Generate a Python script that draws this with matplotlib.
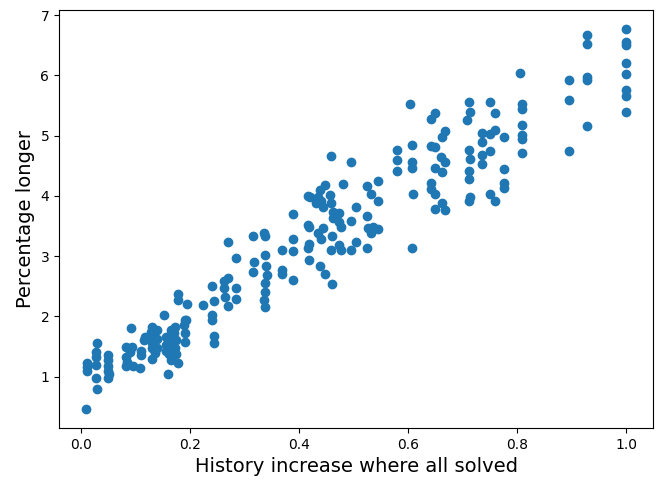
import matplotlib
matplotlib.use("Agg")
import matplotlib.pyplot as plt
import numpy as np

# history increase (fraction) for runs where all tasks were solved
history_increase = [
    0.009, 0.010, 0.010, 0.010,
    0.029, 0.028, 0.028, 0.028, 0.028, 0.029,
    0.050, 0.050, 0.050, 0.050, 0.050, 0.052,
    0.083, 0.083, 0.083, 0.085,
    0.091, 0.093, 0.090, 0.095,
    0.110, 0.110, 0.108, 0.115, 0.118,
    0.130, 0.128, 0.132, 0.130, 0.130, 0.135, 0.130,
    0.140, 0.140, 0.140,
    0.153, 0.155, 0.156, 0.155,
    0.160, 0.165, 0.165, 0.163, 0.165, 0.162, 0.165,
    0.172, 0.170, 0.175, 0.172, 0.175, 0.178,
    0.177, 0.177,
    0.190, 0.188, 0.190, 0.190, 0.192,
    0.195, 0.223,
    0.241, 0.244, 0.241, 0.241, 0.244, 0.244,
    0.270, 0.263, 0.269, 0.263, 0.264, 0.270,
    0.284, 0.284, 0.284,
    0.316, 0.318, 0.316,
    0.336, 0.338, 0.338, 0.339, 0.341, 0.338, 0.338, 0.336, 0.338,
    0.368, 0.368, 0.368,
    0.388, 0.388, 0.388, 0.388,
    0.459, 0.496,
    0.447, 0.438, 0.416, 0.434, 0.456, 0.459, 0.431, 0.444, 0.441, 0.420,
    0.480,
    0.525, 0.545, 0.532, 0.545,
    0.504,
    0.462, 0.474, 0.462, 0.474, 0.477, 0.496,
    0.525,
    0.416, 0.418, 0.444, 0.435, 0.441, 0.460,
    0.526, 0.536, 0.545, 0.532,
    0.416, 0.418,
    0.459, 0.474, 0.477, 0.496, 0.504,
    0.525,
    0.419, 0.439, 0.447, 0.461,
    0.580, 0.580, 0.580,
    0.603, 0.607, 0.607, 0.607, 0.609, 0.607,
    0.649, 0.643, 0.667, 0.662, 0.643, 0.650, 0.661, 0.668,
    0.649, 0.662, 0.642, 0.643, 0.650, 0.662, 0.649, 0.668,
    0.711, 0.713, 0.709, 0.711, 0.713, 0.711, 0.711, 0.713, 0.711,
    0.751, 0.760, 0.736, 0.751, 0.760, 0.736, 0.776, 0.751,
    0.736, 0.736, 0.776, 0.776, 0.776, 0.751, 0.760,
    0.810, 0.810, 0.810, 0.810, 0.810, 0.810, 0.805,
    0.895, 0.895, 0.895,
    0.928, 0.928, 0.928, 0.928, 0.928,
    1.000, 1.000, 1.000, 1.000, 1.000, 1.000, 1.000, 1.000,
]

# corresponding percentage increase in length
percentage_longer = [
    0.46, 1.23, 1.10, 1.16,
    1.56, 1.41, 1.33, 1.20, 0.98, 0.80,
    1.36, 1.27, 1.17, 1.10, 0.98, 1.04,
    1.50, 1.33, 1.17, 1.25,
    1.81, 1.50, 1.41, 1.17,
    1.43, 1.36, 1.15, 1.60, 1.66,
    1.82, 1.74, 1.66, 1.56, 1.48, 1.40, 1.30,
    1.78, 1.62, 1.47,
    2.03, 1.52, 1.42, 1.65,
    1.05, 1.77, 1.70, 1.60, 1.50, 1.37, 1.27,
    1.82, 1.72, 1.60, 1.48, 1.38, 1.23,
    2.37, 2.28,
    1.94, 1.85, 1.72, 1.58, 1.94,
    2.20, 2.19,
    2.50, 2.25, 2.03, 1.94, 1.67, 1.56,
    3.24, 2.59, 2.64, 2.47, 2.33, 2.17,
    2.97, 2.47, 2.29,
    3.33, 2.91, 2.74,
    3.38, 3.33, 3.02, 2.83, 2.69, 2.55, 2.41, 2.28, 2.16,
    3.10, 2.77, 2.71,
    3.70, 3.28, 3.08, 2.61,
    4.67, 4.57,
    4.18, 4.10, 4.00, 3.99, 4.02, 3.88, 3.88, 3.82, 3.91, 3.98,
    4.19,
    4.17, 4.24, 4.03, 3.91,
    3.81,
    3.74, 3.71, 3.63, 3.57, 3.49, 3.59,
    3.67,
    3.52, 3.49, 3.46, 3.39, 3.28, 3.34,
    3.46, 3.48, 3.45, 3.38,
    3.13, 3.20,
    3.11, 3.19, 3.11, 3.11, 3.24,
    3.14,
    2.93, 2.84, 2.71, 2.54,
    4.76, 4.60, 4.41,
    5.52, 4.85, 4.57, 4.46, 4.04, 3.13,
    5.38, 5.27, 5.07, 4.98, 4.83, 4.81, 4.65, 4.57,
    4.46, 4.40, 4.21, 4.11, 4.03, 3.89, 3.78, 3.77,
    5.56, 5.39, 5.26, 4.77, 4.61, 4.42, 4.28, 3.99, 3.91,
    5.56, 5.37, 5.04, 5.03, 5.10, 4.89, 4.98, 4.74,
    4.68, 4.53, 4.44, 4.21, 4.13, 4.04, 3.92,
    5.53, 5.44, 5.18, 5.01, 4.94, 4.71, 6.04,
    5.93, 5.59, 4.75,
    6.67, 6.53, 5.98, 5.92, 5.16,
    6.77, 6.55, 6.50, 6.21, 6.03, 5.76, 5.66, 5.39,
]

fig = plt.figure(figsize=(6.58, 4.8), dpi=100)
ax = fig.add_axes([0.0897, 0.108, 0.9027, 0.871])
ax.scatter(history_increase, percentage_longer, color="#1f77b4")
ax.set_xlabel("History increase where all solved", fontsize=14)
ax.set_ylabel("Percentage longer", fontsize=14)
fig.savefig("out.png", dpi=100)
